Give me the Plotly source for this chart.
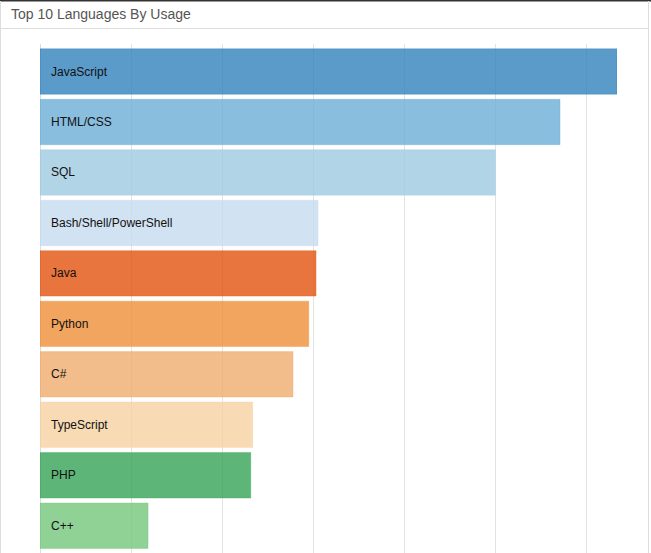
import plotly.graph_objects as go

languages = ["JavaScript", "HTML/CSS", "SQL", "Bash/Shell/PowerShell", "Java",
             "Python", "C#", "TypeScript", "PHP", "C++"]
usage = [31700, 28570, 25020, 15275, 15165, 14765, 13900, 11690, 11580, 5935]
base_colors = ["#3182bd", "#6baed6", "#9ecae1", "#c6dbef", "#e3530e",
               "#ed8e36", "#efad6d", "#f6d1a2", "#35a456", "#74c77a"]
title_text = "Top 10 Languages By Usage"

W, H = 651, 553
L, R, T, B = 40, 34, 44, 0
PW, PH = W - L - R, H - T - B


def rgba(hexc, a):
    h = hexc.lstrip("#")
    r, g, b = int(h[0:2], 16), int(h[2:4], 16), int(h[4:6], 16)
    return f"rgba({r},{g},{b},{a})"


def px_x(p):
    return (p - L) / PW


def px_y(p):
    return (H - B - p) / PH


fig = go.Figure(go.Bar(
    x=usage, y=languages, orientation="h",
    marker=dict(color=[rgba(c, 0.8) for c in base_colors],
                line=dict(color=[rgba(c, 0.35) for c in base_colors], width=1)),
    hoverinfo="x+y",
))

annotations = [
    dict(x=0, y=lang, xref="x", yref="y", text=lang, showarrow=False,
         xanchor="left", yanchor="middle", xshift=9,
         font=dict(family="Liberation Sans, Arial, sans-serif", size=12, color="#111"))
    for lang in languages
]

shapes = [
    dict(type="rect", xref="paper", yref="paper", x0=px_x(0), x1=px_x(W),
         y0=px_y(1.5), y1=px_y(0), fillcolor="#333", line=dict(width=0), layer="above"),
    dict(type="line", xref="paper", yref="paper", x0=px_x(0.5), x1=px_x(0.5),
         y0=px_y(H), y1=px_y(1), line=dict(color="#dddddd", width=1)),
    dict(type="line", xref="paper", yref="paper", x0=px_x(648.5), x1=px_x(648.5),
         y0=px_y(H), y1=px_y(1), line=dict(color="#dddddd", width=1)),
    dict(type="line", xref="paper", yref="paper", x0=px_x(1), x1=px_x(648),
         y0=px_y(28.5), y1=px_y(28.5), line=dict(color="#dddddd", width=1)),
]

fig.update_layout(
    width=W, height=H,
    margin=dict(l=L, r=R, t=T, b=B, pad=0),
    paper_bgcolor="white", plot_bgcolor="white",
    bargap=0.1,
    showlegend=False,
    title=dict(text=title_text, xref="container", yref="container",
               x=11 / W, y=1 - 14 / H, xanchor="left", yanchor="middle",
               font=dict(family="Liberation Sans, Arial, sans-serif", size=14, color="#555")),
    xaxis=dict(range=[0, max(usage)], dtick=5000, showgrid=True, gridcolor="#e3e3e3",
               gridwidth=1, zeroline=True, zerolinecolor="#dcdcdc", zerolinewidth=1,
               showticklabels=False, ticks="", fixedrange=True),
    yaxis=dict(range=[9.54, -0.545], showticklabels=False, ticks="", showgrid=False,
               zeroline=False, fixedrange=True),
    annotations=annotations,
    shapes=shapes,
)

fig.write_html("out.html")
